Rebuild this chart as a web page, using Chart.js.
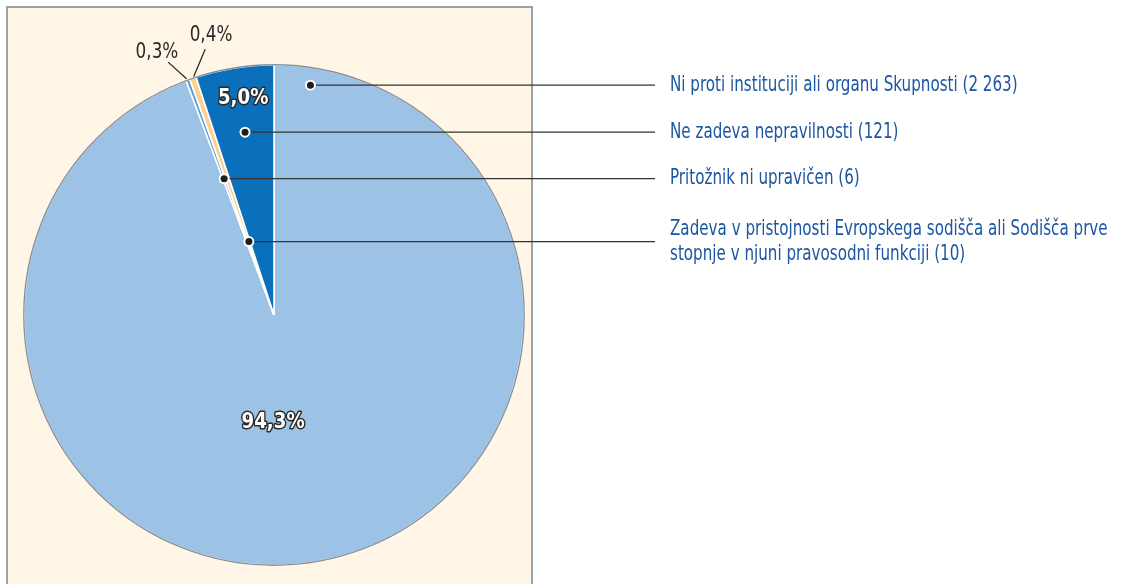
<!DOCTYPE html>
<html>
<head>
<meta charset="utf-8">
<script src="https://cdn.jsdelivr.net/npm/chart.js@4/dist/chart.umd.min.js"></script>
<style>
  html, body { margin: 0; padding: 0; background: #fff; }
  #wrap { position: relative; width: 1138px; height: 584px; }
</style>
</head>
<body>
<div id="wrap"><canvas id="pieChart"></canvas></div>
<script>
// slices in drawing order (clockwise from 12 o'clock)
const SLICE_LABELS = [
  "Ni proti instituciji ali organu Skupnosti",
  "Pritožnik ni upravičen",
  "Zadeva v pristojnosti Evropskega sodišča ali Sodišča prve stopnje v njuni pravosodni funkciji",
  "Ne zadeva nepravilnosti",
];
const SLICE_VALUES = [2263, 6, 10, 121];
const SLICE_COLORS = ["#9cc2e6", "#5a9fd6", "#fdd08c", "#0a70bb"];

// legend text lines on the right, top to bottom, with the slice each one belongs to
const LEGEND_ORDER = [0, 3, 1, 2];
const LEGEND_LINES = [
  ["Ni proti instituciji ali organu Skupnosti (2 263)"],
  ["Ne zadeva nepravilnosti (121)"],
  ["Pritožnik ni upravičen (6)"],
  ["Zadeva v pristojnosti Evropskega sodišča ali Sodišča prve", "stopnje v njuni pravosodni funkciji (10)"],
];

// placement of annotations: angle in degrees from 12 o'clock, radius as share of pie radius
const DOT_PLACE = [
  { a: 9, r: 0.93 },
  { a: 339.9, r: 0.58 },
  { a: 341.1, r: 0.31 },
  { a: 351, r: 0.74 },
];
const PCT_PLACE = [
  { a: 180.5, r: 0.43, inside: true },
  { a: 336, r: 1.15, inside: false },
  { a: 347.3, r: 1.145, inside: false },
  { a: 351.9, r: 0.875, inside: true },
];

const LEGEND_X = 670;
const LEADER_END_X = 655;
const TEXT_BLUE = "#1d56a3";
const FONT = "'Liberation Sans Narrow', 'DejaVu Sans Condensed', sans-serif";

function pctText(v) {
  const total = SLICE_VALUES.reduce((s, x) => s + x, 0);
  return (v / total * 100).toFixed(1).replace(".", ",") + "%";
}

function polar(arc, a, r) {
  const th = (a - 90) * Math.PI / 180;
  return { x: arc.x + r * arc.outerRadius * Math.cos(th), y: arc.y + r * arc.outerRadius * Math.sin(th) };
}

function squeezedText(ctx, text, x, y, squeeze) {
  ctx.save();
  ctx.translate(x, y);
  ctx.scale(squeeze, 1);
  ctx.fillText(text, 0, 0);
  ctx.restore();
}

const panelPlugin = {
  id: "panel",
  beforeDraw(chart) {
    const ctx = chart.ctx;
    ctx.save();
    ctx.fillStyle = "#fff6e7";
    ctx.fillRect(7, 7, 525, 577);
    ctx.strokeStyle = "#9aa3a9";
    ctx.lineWidth = 2;
    ctx.beginPath();
    ctx.moveTo(7, 584);
    ctx.lineTo(7, 7);
    ctx.lineTo(532, 7);
    ctx.lineTo(532, 584);
    ctx.stroke();
    ctx.restore();
  },
};

const annotatePlugin = {
  id: "annotate",
  afterDatasetsDraw(chart) {
    const ctx = chart.ctx;
    const arcs = chart.getDatasetMeta(0).data;
    const first = arcs[0];

    // grey rim
    ctx.save();
    ctx.strokeStyle = "#88919a";
    ctx.lineWidth = 1.4;
    ctx.beginPath();
    ctx.arc(first.x, first.y, first.outerRadius, 0, Math.PI * 2);
    ctx.stroke();
    ctx.restore();

    // percentage labels
    arcs.forEach((arc, i) => {
      const p = PCT_PLACE[i];
      const pos = polar(arc, p.a, p.r);
      const txt = pctText(SLICE_VALUES[i]);
      ctx.save();
      ctx.textAlign = "center";
      ctx.textBaseline = "middle";
      if (p.inside) {
        ctx.font = "bold 22px " + FONT;
        ctx.lineJoin = "round";
        ctx.lineWidth = 3;
        ctx.strokeStyle = "#2b2b2b";
        ctx.translate(pos.x, pos.y);
        ctx.scale(0.92, 1);
        ctx.strokeText(txt, 0, 0);
        ctx.fillStyle = "#ffffff";
        ctx.fillText(txt, 0, 0);
      } else {
        const mid = (arc.startAngle + arc.endAngle) / 2;
        const rim = { x: arc.x + arc.outerRadius * Math.cos(mid), y: arc.y + arc.outerRadius * Math.sin(mid) };
        const dx = rim.x - pos.x, dy = rim.y - pos.y;
        const len = Math.hypot(dx, dy);
        ctx.strokeStyle = "#222";
        ctx.lineWidth = 1.2;
        ctx.beginPath();
        ctx.moveTo(pos.x + dx / len * 15, pos.y + dy / len * 15);
        ctx.lineTo(rim.x - dx / len * 2, rim.y - dy / len * 2);
        ctx.stroke();
        ctx.font = "22px " + FONT;
        ctx.fillStyle = "#2a2a2a";
        squeezedText(ctx, txt, pos.x, pos.y, 0.85);
      }
      ctx.restore();
    });

    // leader lines, dots and legend text
    LEGEND_ORDER.forEach((idx, row) => {
      const arc = arcs[idx];
      const d = polar(arc, DOT_PLACE[idx].a, DOT_PLACE[idx].r);
      ctx.save();
      ctx.strokeStyle = "#333";
      ctx.lineWidth = 1.3;
      ctx.beginPath();
      ctx.moveTo(d.x, d.y);
      ctx.lineTo(LEADER_END_X, d.y);
      ctx.stroke();
      ctx.beginPath();
      ctx.arc(d.x, d.y, 5.5, 0, Math.PI * 2);
      ctx.fillStyle = "#ffffff";
      ctx.fill();
      ctx.beginPath();
      ctx.arc(d.x, d.y, 3.5, 0, Math.PI * 2);
      ctx.fillStyle = "#1e1e1e";
      ctx.fill();

      const lines = LEGEND_LINES[row];
      const lh = 25;
      ctx.font = "22px " + FONT;
      ctx.fillStyle = TEXT_BLUE;
      ctx.textAlign = "left";
      ctx.textBaseline = "middle";
      lines.forEach((ln, k) => {
        const y = d.y + (k - (lines.length - 1) / 2) * lh;
        squeezedText(ctx, ln, LEGEND_X, y, 0.765);
      });
      ctx.restore();
    });
  },
};

new Chart(document.getElementById("pieChart"), {
  type: "pie",
  data: {
    labels: SLICE_LABELS,
    datasets: [{
      data: SLICE_VALUES,
      backgroundColor: SLICE_COLORS,
      borderColor: "#ffffff",
      borderWidth: 1.6,
    }],
  },
  options: {
    responsive: true,
    maintainAspectRatio: false,
    animation: false,
    layout: { padding: { left: 23, right: 613, top: 64, bottom: 18 } },
    plugins: {
      legend: { display: false },
      tooltip: { enabled: false },
    },
  },
  plugins: [panelPlugin, annotatePlugin],
});
</script>
</body>
</html>
